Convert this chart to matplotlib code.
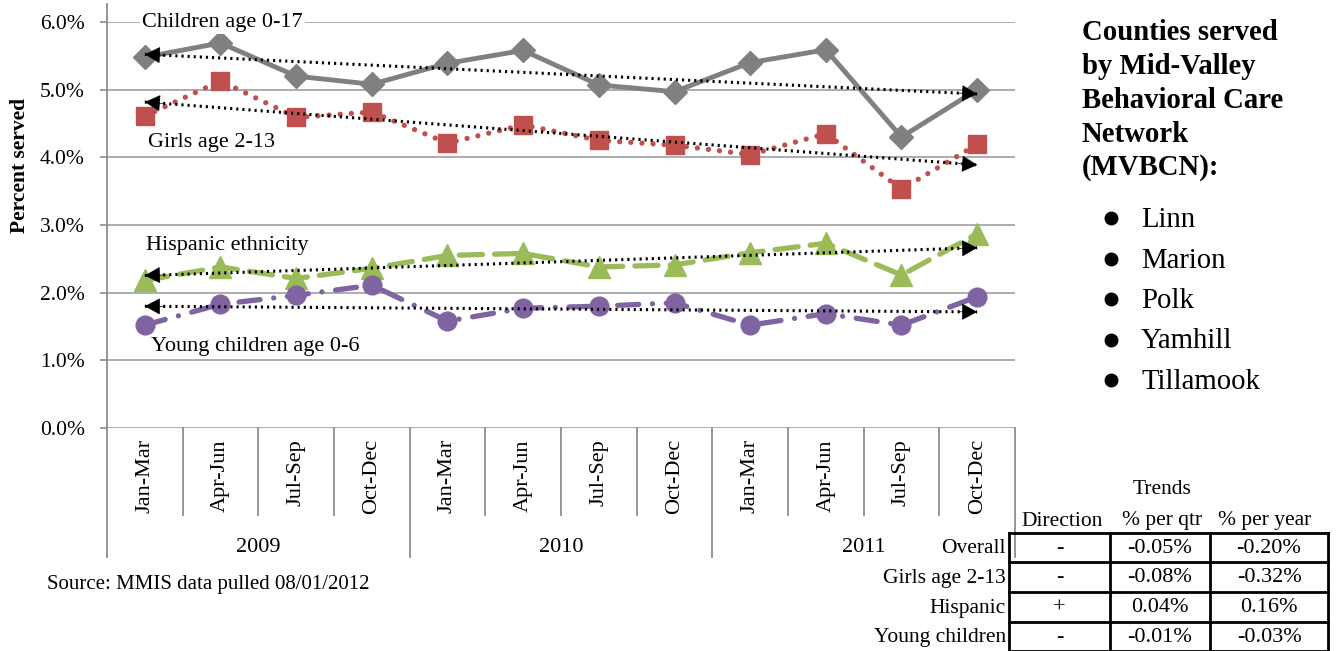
import numpy as np
import matplotlib
matplotlib.use('Agg')
import matplotlib.pyplot as plt
from matplotlib.lines import Line2D

plt.rcParams['font.family'] = ['Liberation Serif', 'DejaVu Serif']

quarters = ['Jan-Mar', 'Apr-Jun', 'Jul-Sep', 'Oct-Dec'] * 3
years = ['2009', '2010', '2011']

children = [5.48, 5.69, 5.20, 5.08, 5.39, 5.58, 5.07, 4.97, 5.40, 5.59, 4.30, 5.00]
girls = [4.61, 5.13, 4.59, 4.67, 4.21, 4.48, 4.25, 4.18, 4.04, 4.35, 3.53, 4.19]
hispanic = [2.18, 2.38, 2.21, 2.36, 2.55, 2.58, 2.38, 2.41, 2.59, 2.73, 2.26, 2.87]
young = [1.52, 1.83, 1.96, 2.11, 1.58, 1.77, 1.80, 1.85, 1.52, 1.69, 1.52, 1.94]

series_labels = ['Children age 0-17', 'Girls age 2-13', 'Hispanic ethnicity', 'Young children age 0-6']

counties = ['Linn', 'Marion', 'Polk', 'Yamhill', 'Tillamook']
county_title = ['Counties served', 'by Mid-Valley', 'Behavioral Care', 'Network', '(MVBCN):']

trend_rows = ['Overall', 'Girls age 2-13', 'Hispanic', 'Young children']
trend_dir = ['-', '-', '+', '-']
trend_qtr = ['-0.05%', '-0.08%', '0.04%', '-0.01%']
trend_year = ['-0.20%', '-0.32%', '0.16%', '-0.03%']

W, H = 1337, 651
fig = plt.figure(figsize=(W / 100, H / 100), dpi=100)


def fx(x):
    return x / W


def fy(y):
    return 1 - y / H


ax = fig.add_axes([fx(107), fy(428), (1015 - 107) / W, (428 - 22) / H])
x = np.arange(len(quarters))
ax.set_xlim(-0.5, len(quarters) - 0.5)
ax.set_ylim(0, 6)

gray = '#8c8c8c'
for v in range(0, 7):
    ax.axhline(v, color='#a6a6a6', lw=1.3, zorder=1)

# series
ax.plot(x, children, color='#808080', lw=3.5, marker='D', ms=12.5, zorder=3)
ax.plot(x, girls, color='#c0504d', lw=3.8, linestyle=(0, (0.01, 2.1)),
        dash_capstyle='round', marker='s', ms=13, zorder=3)
ax.plot(x, hispanic, color='#9bbb59', lw=3.8, linestyle=(0, (4.4, 2.3)),
        dash_capstyle='round', marker='^', ms=16, zorder=3)
ax.plot(x, young, color='#8064a2', lw=3.8, linestyle=(0, (4.0, 2.6, 0.01, 2.6)),
        dash_capstyle='round', marker='o', ms=13.5, zorder=3)

# linear trend lines with arrow heads at both ends
for vals in [children, girls, hispanic, young]:
    slope, icpt = np.polyfit(x, vals, 1)
    ty = slope * x + icpt
    ax.plot(x, ty, color='black', lw=2.2, linestyle=(0, (0.7, 1.3)), zorder=4)
    d = 0.25
    for xe, sgn in [(x[0], -1), (x[-1], 1)]:
        ye = slope * xe + icpt
        ax.annotate('', xy=(xe, ye), xytext=(xe - sgn * d, ye - sgn * d * slope),
                    arrowprops=dict(arrowstyle='-|>,head_length=0.5,head_width=0.27',
                                    mutation_scale=20, color='black', lw=0.5,
                                    shrinkA=0, shrinkB=0), zorder=5)

# series labels
lab_pos = [(142, 22), (148, 142), (146, 246), (151, 347)]
for (lx, ly), t in zip(lab_pos, series_labels):
    kw = {}
    if ly == 22:
        kw['bbox'] = dict(facecolor='white', edgecolor='none', pad=1.5)
    fig.text(fx(lx), fy(ly), t, fontsize=16, ha='left', va='center', zorder=6, **kw)

# axes styling
for s in ax.spines.values():
    s.set_visible(False)
ax.set_xticks([])
ax.set_yticks(range(0, 7))
ax.set_yticklabels(['%.1f%%' % v for v in range(0, 7)], fontsize=15.5)
ax.tick_params(axis='y', length=5, width=1.2, color=gray, pad=11)

# axis lines and category separators
fig.add_artist(Line2D([fx(107), fx(107)], [fy(4), fy(557)], color=gray, lw=1.3))
trans = ax.get_xaxis_transform()
for k in range(1, len(quarters) + 1):
    xb = k - 0.5
    yb = -(557 - 428) / 406 if k % 4 == 0 else -(515 - 428) / 406
    ax.plot([xb, xb], [0, yb], color=gray, lw=1.3, transform=trans, clip_on=False)

for i, q in enumerate(quarters):
    ax.text(i, -0.028, q, transform=trans, rotation=90, ha='center', va='top', fontsize=16)
for j, yr in enumerate(years):
    ax.text(4 * j + 1.5, -(548 - 428) / 406, yr, transform=trans, ha='center', va='center',
            fontsize=16)

fig.text(fx(20), fy(165), 'Percent served', rotation=90, ha='center', va='center',
         fontsize=15.5, fontweight='bold')
fig.text(fx(47), fy(584), 'Source: MMIS data pulled 08/01/2012', ha='left', va='center',
         fontsize=15)

# county list
title_base = [40, 74, 108, 142, 175]
for t, b in zip(county_title, title_base):
    fig.text(fx(1082), fy(b), t, ha='left', va='baseline', fontsize=20.7, fontweight='bold')
for i, c in enumerate(counties):
    b = 227 + i * 40.5
    fig.add_artist(Line2D([fx(1111)], [fy(b - 9)], marker='o', ms=9, color='black', lw=0))
    fig.text(fx(1141), fy(b), c, ha='left', va='baseline', fontsize=20.7)

# trend table
fig.text(fx(1162), fy(490), 'Trends', ha='center', va='center', fontsize=15.5)
for t, cx in zip(['Direction', '% per qtr', '% per year'], [1062, 1162, 1265]):
    fig.text(fx(cx), fy(521), t, ha='center', va='center', fontsize=15.5)

col_edges = [1009, 1110, 1210, 1328]
row_edges = [533, 562, 592, 622, 651]
for xe in col_edges:
    fig.add_artist(Line2D([fx(xe), fx(xe)], [fy(row_edges[0]), fy(row_edges[-1])],
                          color='black', lw=2))
for ye in row_edges:
    fig.add_artist(Line2D([fx(col_edges[0]), fx(col_edges[-1])], [fy(ye), fy(ye)],
                          color='black', lw=2))
for r in range(len(trend_rows)):
    cy = (row_edges[r] + row_edges[r + 1]) / 2 + 1
    fig.text(fx(1006), fy(cy), trend_rows[r], ha='right', va='center', fontsize=15.5)
    for val, c0, c1 in [(trend_dir[r], 0, 1), (trend_qtr[r], 1, 2), (trend_year[r], 2, 3)]:
        fig.text(fx((col_edges[c0] + col_edges[c1]) / 2), fy(cy), val, ha='center',
                 va='center', fontsize=16)

fig.savefig('out.png', dpi=100)
